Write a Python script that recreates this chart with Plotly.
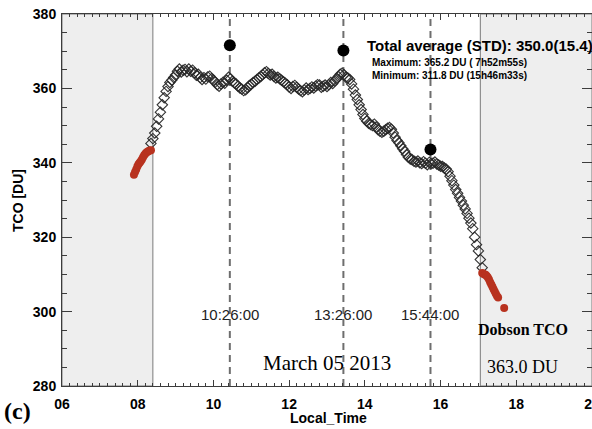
import numpy as np
import plotly.graph_objects as go

# ---------------------------------------------------------------------------
# Data
# ---------------------------------------------------------------------------
# Satellite/ground TCO time series (DU), sampled every 3 minutes from 08.35 h
tco_start = 8.35
tco_step = 0.05
tco = [
    345.2, 346.5, 348.0, 349.8, 351.8, 353.6, 355.6, 357.5, 359.2, 360.5,  # 08.35
    361.6, 362.2, 362.9, 363.6, 364.6, 365.2, 364.4, 364.9, 365.1, 364.5,  # 08.85
    365.2, 364.6, 364.9, 364.2, 363.5, 363.8, 362.9, 362.4, 362.9, 362.5,  # 09.35
    363.1, 363.3, 362.6, 362.2, 361.7, 361.0, 360.6, 361.2, 361.6, 361.4,  # 09.85
    362.2, 363.0, 362.6, 361.9, 361.5, 361.2, 360.6, 360.1, 359.8, 359.4,  # 10.35
    359.6, 360.2, 360.8, 361.1, 361.6, 361.9, 362.4, 362.8, 363.2, 363.7,  # 10.85
    364.2, 364.5, 364.0, 363.6, 363.8, 363.2, 362.8, 363.0, 362.6, 362.2,  # 11.35
    361.8, 361.4, 361.0, 360.4, 360.0, 360.5, 360.8, 360.3, 359.8, 359.4,  # 11.85
    359.1, 359.6, 360.1, 359.7, 360.0, 360.4, 360.1, 360.6, 361.0, 360.9,  # 12.35
    360.3, 360.6, 360.9, 360.5, 361.0, 361.6, 361.3, 362.0, 362.5, 363.2,  # 12.85
    363.8, 364.1, 363.7, 363.0, 362.8, 362.4, 361.2, 359.8, 358.2, 357.0,  # 13.35
    355.6, 354.3, 353.0, 351.9, 351.2, 350.6, 350.3, 350.0, 350.4, 349.6,  # 13.85
    348.9, 348.5, 348.2, 348.5, 348.9, 349.3, 349.5, 349.0, 348.0, 346.9,  # 14.35
    346.0, 345.4, 344.6, 343.8, 343.1, 342.2, 341.5, 341.0, 340.8, 340.4,  # 14.85
    340.2, 340.5, 340.0, 339.8, 340.3, 339.9, 339.5, 340.1, 339.8, 339.9,  # 15.35
    340.2, 339.7, 339.4, 339.1, 339.0, 338.6, 338.3, 337.6, 336.4, 335.2,  # 15.85
    334.0, 332.8, 331.8, 330.7, 329.7, 328.6, 327.6, 326.4, 325.1, 323.8,  # 16.35
    322.3, 320.0, 318.0, 316.3, 314.0, 311.8,                              # 16.85
]
tco_time = np.round(tco_start + tco_step * np.arange(len(tco)), 2)

# Dobson measurements, morning and evening
dobson_am_time = [7.90, 7.93, 7.96, 7.99, 8.02, 8.05, 8.08, 8.11,
                  8.14, 8.17, 8.20, 8.23, 8.26, 8.29, 8.32, 8.35]
dobson_am_tco = [336.8, 337.5, 338.2, 339.0, 339.6, 340.0, 340.4, 340.9,
                 341.5, 342.0, 342.4, 342.8, 343.0, 343.2, 343.3, 343.4]
dobson_pm_time = [17.10, 17.13, 17.16, 17.19, 17.22, 17.25, 17.28, 17.31,
                  17.34, 17.37, 17.40, 17.43, 17.46, 17.49, 17.52, 17.68]
dobson_pm_tco = [310.4, 310.2, 310.0, 309.9, 309.6, 309.2, 308.6, 307.9,
                 307.3, 306.7, 306.0, 305.4, 304.8, 304.2, 303.8, 301.0]

# Satellite overpasses
overpass_labels = ["10:26:00", "13:26:00", "15:44:00"]
overpass_tco = [371.6, 370.2, 343.6]

# Periods outside the satellite window (shaded)
shade_am = [6.0, 8.40]
shade_pm = [17.05, 20.0]

x_range = [6, 20]
y_range = [280, 380]


def hhmmss_to_hours(s):
    h, m, sec = (int(v) for v in s.split(":"))
    return h + m / 60 + sec / 3600


overpass_time = [hhmmss_to_hours(s) for s in overpass_labels]

# ---------------------------------------------------------------------------
# Layout geometry (pixels)
# ---------------------------------------------------------------------------
FIG_W, FIG_H = 592, 429
M_L, M_R, M_T, M_B = 62, 0, 14, 43
PLOT_W = FIG_W - M_L - M_R
PLOT_H = FIG_H - M_T - M_B


def px(x):
    return (x - M_L) / PLOT_W


def py(y):
    return (M_T + PLOT_H - y) / PLOT_H


SANS = "Liberation Sans"
SERIF = "Liberation Serif"
AXIS_COLOR = "#3c3c3c"

fig = go.Figure()

fig.add_trace(go.Scatter(
    x=tco_time, y=tco, mode="markers",
    marker=dict(symbol="diamond-open", size=8, color="rgba(40,40,40,0.95)",
                line=dict(width=1.1)),
    hoverinfo="skip",
))
for t, v in ((dobson_am_time, dobson_am_tco), (dobson_pm_time, dobson_pm_tco)):
    fig.add_trace(go.Scatter(
        x=t, y=v, mode="markers",
        marker=dict(symbol="circle", size=8, color="#b8321f"),
        hoverinfo="skip",
    ))
fig.add_trace(go.Scatter(
    x=overpass_time, y=overpass_tco, mode="markers",
    marker=dict(symbol="circle", size=12, color="black"),
    hoverinfo="skip",
))

# Shaded periods
for x0, x1 in (shade_am, shade_pm):
    fig.add_shape(type="rect", xref="x", yref="y", x0=x0, x1=x1,
                  y0=y_range[0], y1=y_range[1], layer="below",
                  fillcolor="#eeeeee", line=dict(color="#7a7a7a", width=1))

# Overpass dashed lines and their labels
for t, lab in zip(overpass_time, overpass_labels):
    fig.add_shape(type="line", xref="x", yref="paper", x0=t, x1=t, y0=0, y1=1,
                  layer="below", line=dict(color="#6e6e6e", width=2, dash="7px,5px"))
    fig.add_annotation(x=t, xref="x", y=py(314), yref="paper", text=lab,
                       showarrow=False, xanchor="center", yanchor="middle",
                       font=dict(family=SANS, size=15, color="#222222"))

annotations = [
    dict(text="Total average (STD): 350.0(15.4)", x=px(364.5), y=py(45.7),
         xanchor="left", font=dict(family=SANS, size=15, color="black", weight="bold")),
    dict(text="Maximum: 365.2 DU ( 7h52m55s)<br>Minimum: 311.8 DU (15h46m33s)",
         x=px(370), y=py(69), xanchor="left", align="left",
         font=dict(family=SANS, size=10, color="black", weight="bold")),
    dict(text="March 05 2013", x=px(327), y=py(363), xanchor="center",
         font=dict(family=SERIF, size=21, color="black")),
    dict(text="Dobson TCO", x=px(522.5), y=py(329.5), xanchor="center",
         font=dict(family=SERIF, size=16, color="black", weight="bold")),
    dict(text="363.0 DU", x=px(522.5), y=py(367), xanchor="center",
         font=dict(family=SERIF, size=18, color="black")),
    dict(text="(c)", x=px(17.5), y=py(411), xanchor="center",
         font=dict(family=SERIF, size=24, color="black", weight="bold")),
    dict(text="TCO [DU]", x=px(18), y=py(201), xanchor="center", textangle=-90,
         font=dict(family=SANS, size=14, color="black", weight="bold")),
    dict(text="Local_Time", x=px(328), y=py(418), xanchor="center",
         font=dict(family=SANS, size=14, color="black", weight="bold")),
]
for a in annotations:
    fig.add_annotation(xref="paper", yref="paper", showarrow=False,
                       yanchor="middle", **a)

tickfont = dict(family=SANS, size=14, color="black", weight="bold")
fig.update_xaxes(
    range=x_range, tick0=6, dtick=2, tickformat="02d",
    ticks="inside", ticklen=6, tickcolor=AXIS_COLOR, tickwidth=1,
    minor=dict(dtick=0.2, ticks="inside", ticklen=3, tickcolor=AXIS_COLOR),
    showline=True, linecolor=AXIS_COLOR, linewidth=1, mirror="ticks",
    showgrid=False, zeroline=False, tickfont=tickfont, automargin=False,
    ticklabelstandoff=5, ticklabeloverflow="allow",
)
fig.update_yaxes(
    range=y_range, tick0=280, dtick=20,
    ticks="inside", ticklen=10, tickcolor=AXIS_COLOR, tickwidth=1,
    minor=dict(dtick=5, ticks="inside", ticklen=5, tickcolor=AXIS_COLOR),
    showline=True, linecolor=AXIS_COLOR, linewidth=1, mirror="ticks",
    showgrid=False, zeroline=False, tickfont=tickfont, automargin=False,
    ticklabelstandoff=2,
)
fig.update_layout(
    width=FIG_W, height=FIG_H,
    margin=dict(l=M_L, r=M_R, t=M_T, b=M_B, pad=0),
    paper_bgcolor="white", plot_bgcolor="white",
    showlegend=False,
)

fig.write_html("out.html")
